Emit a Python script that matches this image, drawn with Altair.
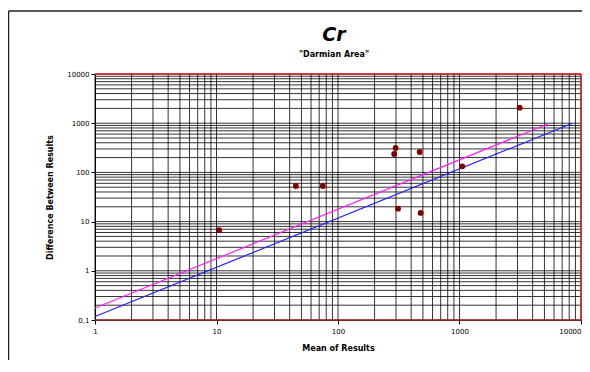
import altair as alt
import pandas as pd

# Data
mean_x = [10.5, 45, 75, 290, 298, 312, 470, 479, 1055, 3130]
diff_y = [6.7, 53, 53, 237, 313, 18.3, 260, 15, 133, 2065]

blue_x = [1, 8500]
blue_y = [0.118, 1000]
mag_x = [1, 5500]
mag_y = [0.175, 1000]

x_decades = [1, 10, 100, 1000, 10000]
y_decades = [0.1, 1, 10, 100, 1000, 10000]
grid_x = [m * 10 ** k for k in range(0, 4) for m in range(1, 10)] + [10000]
grid_y = [round(m * 10.0 ** k, 6) for k in range(-1, 4) for m in range(1, 10)] + [10000]

title_text = ["Cr"]
subtitle_text = ['"Darmian Area"']

FONT = "Comic Sans MS, DejaVu Sans"
LFONT = "Verdana, DejaVu Sans"

W, H = 486, 246
PAD = {"left": 87, "top": 66, "right": 1, "bottom": 40}

xs = alt.Scale(type="log", domain=[1, 10000], nice=False)
ys = alt.Scale(type="log", domain=[0.1, 10000], nice=False)

ax_x = alt.Axis(values=x_decades, format="d", grid=False, domainColor="black",
                tickColor="black", tickSize=4, labelFontSize=7, labelFont=LFONT,
                labelColor="black", labelPadding=3, title="Mean of Results",
                titleFont=FONT, titleFontSize=8, titleFontWeight="bold",
                titleColor="black", titlePadding=10, labelFlush=False,
                labelAlign={"condition": {"test": "datum.value >= 10000",
                                          "value": "right"},
                            "value": "center"})
ax_y = alt.Axis(values=y_decades, grid=False, domainColor="black",
                tickColor="black", tickSize=4, labelFontSize=7, labelFont=LFONT,
                labelColor="black", labelPadding=2,
                labelExpr="datum.value < 1 ? '0,1' : format(datum.value, 'd')",
                title="Difference Between Results", titleFont=FONT,
                titleFontSize=8, titleFontWeight="bold", titleColor="black",
                titlePadding=12)


def X(f):
    return alt.X(f, type="quantitative", scale=xs, axis=ax_x)


def Y(f):
    return alt.Y(f, type="quantitative", scale=ys, axis=ax_y)


vgrid = alt.Chart(pd.DataFrame({"x": grid_x})).mark_rule(
    color="black", strokeWidth=1, opacity=0.8).encode(x=X("x"))
hgrid = alt.Chart(pd.DataFrame({"y": grid_y})).mark_rule(
    color="black", strokeWidth=1, opacity=0.8).encode(y=Y("y"))

blue = alt.Chart(pd.DataFrame({"x": blue_x, "y": blue_y})).mark_line(
    color="#2020ff", strokeWidth=1.2).encode(x=X("x"), y=Y("y"))
mag = alt.Chart(pd.DataFrame({"x": mag_x, "y": mag_y})).mark_line(
    color="#ff20ff", strokeWidth=1.2).encode(x=X("x"), y=Y("y"))

top_b = alt.Chart(pd.DataFrame({"y": [10000]})).mark_rule(
    color="#e02020", strokeWidth=1.5).encode(y=Y("y"))
right_b = alt.Chart(pd.DataFrame({"x": [10000]})).mark_rule(
    color="#e02020", strokeWidth=1.5).encode(x=X("x"))
bottom_b = alt.Chart(pd.DataFrame({"y": [0.1]})).mark_rule(
    color="#993333", strokeWidth=1.5).encode(y=Y("y"))

pts = alt.Chart(pd.DataFrame({"x": mean_x, "y": diff_y})).mark_circle(
    color="#800000", size=34, opacity=1).encode(x=X("x"), y=Y("y"))

svg_w = PAD["left"] + W + PAD["right"]
svg_h = PAD["top"] + H + PAD["bottom"]
frame_l = alt.Chart(pd.DataFrame({"a": [0]})).mark_rule(
    color="#222222", strokeWidth=1.5).encode(
    x=alt.value(-86.5), y=alt.value(-63), y2=alt.value(svg_h - PAD["top"]))
frame_t = alt.Chart(pd.DataFrame({"a": [0]})).mark_rule(
    color="#222222", strokeWidth=1.5).encode(
    x=alt.value(-86.5), x2=alt.value(svg_w - PAD["left"]), y=alt.value(-63))

title = alt.Chart(pd.DataFrame({"t": title_text})).mark_text(
    font=FONT, fontSize=19, fontStyle="italic", fontWeight="bold",
    color="black", baseline="middle", align="center").encode(
    text="t:N", x=alt.value(W / 2 - 4), y=alt.value(-39))
subtitle = alt.Chart(pd.DataFrame({"t": subtitle_text})).mark_text(
    font=FONT, fontSize=8, fontWeight="bold",
    color="black", baseline="middle", align="center").encode(
    text="t:N", x=alt.value(W / 2 - 4), y=alt.value(-19))

chart = alt.layer(vgrid, hgrid, blue, mag, top_b, right_b, bottom_b, pts,
                  frame_l, frame_t, title, subtitle).properties(
    width=W, height=H,
    autosize=alt.AutoSizeParams(type="none"),
    padding=PAD,
).configure_view(stroke=None).configure(background="white")

chart.save("out.html", embed_options={"renderer": "svg", "actions": False})
